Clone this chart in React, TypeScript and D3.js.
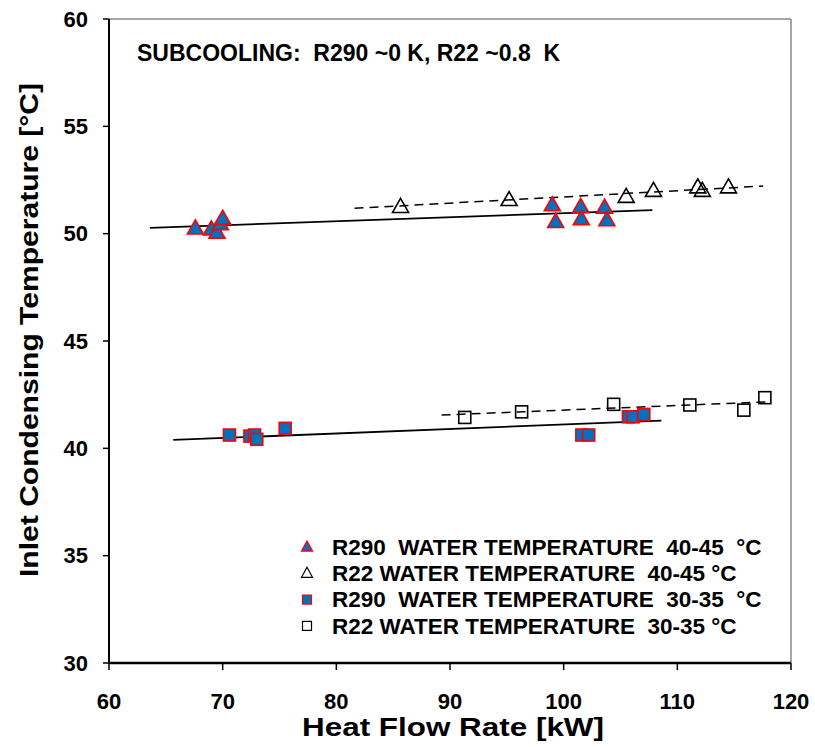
import React from "react";
import * as d3 from "d3";

const xTicks = [60, 70, 80, 90, 100, 110, 120];
const yTicks = [30, 35, 40, 45, 50, 55, 60];

// R290 water 40-45 °C (filled triangles)
const r290HighX = [67.6, 69.0, 69.5, 69.8, 70.0, 99.0, 99.3, 101.5, 101.55, 103.6, 103.8];
const r290HighY = [50.25, 50.2, 50.05, 50.45, 50.7, 51.33, 50.55, 51.25, 50.68, 51.22, 50.63];
// R22 water 40-45 °C (open triangles)
const r22HighX = [85.65, 95.2, 105.5, 107.9, 111.8, 112.2, 114.5];
const r22HighY = [51.25, 51.57, 51.72, 52.0, 52.16, 52.0, 52.16];
// R290 water 30-35 °C (filled squares)
const r290LowX = [70.6, 72.4, 72.8, 73.0, 75.5, 101.6, 102.2, 105.7, 106.1, 107.05];
const r290LowY = [40.62, 40.57, 40.62, 40.42, 40.93, 40.62, 40.62, 41.47, 41.47, 41.58];
// R22 water 30-35 °C (open squares)
const r22LowX = [91.3, 96.3, 104.4, 111.1, 115.85, 117.7];
const r22LowY = [41.44, 41.7, 42.05, 42.02, 41.78, 42.36];

// Trend line endpoints [x0, x1], [y0, y1]
const trendR290HighX = [63.6, 107.8];
const trendR290HighY = [50.27, 51.1];
const trendR22HighX = [81.6, 117.55];
const trendR22HighY = [51.18, 52.22];
const trendR290LowX = [65.65, 108.6];
const trendR290LowY = [40.39, 41.29];
const trendR22LowX = [89.26, 118.13];
const trendR22LowY = [41.55, 42.17];

const legendLabels = [
  "R290  WATER TEMPERATURE  40-45  °C",
  "R22 WATER TEMPERATURE  40-45 °C",
  "R290  WATER TEMPERATURE  30-35  °C",
  "R22 WATER TEMPERATURE  30-35 °C",
];

const W = 815;
const H = 747;
const M = { left: 109, right: 791, top: 19, bottom: 663 };
const FONT = "'Liberation Sans', Arial, sans-serif";
const BLUE = "#0070C0";
const RED = "#FF0000";

function tri(cx: number, cy: number, w: number, h: number) {
  return `M${cx},${cy - h * 0.6} L${cx + w / 2},${cy + h * 0.4} L${cx - w / 2},${cy + h * 0.4} Z`;
}

export default function App() {
  const x = d3.scaleLinear().domain([60, 120]).range([M.left, M.right]);
  const y = d3.scaleLinear().domain([30, 60]).range([M.bottom, M.top]);
  const line = d3
    .line<[number, number]>()
    .x((d) => x(d[0]))
    .y((d) => y(d[1]));
  const pairs = (xs: number[], ys: number[]) => xs.map((v, i) => [v, ys[i]] as [number, number]);

  const legendX = 307;
  const legendTextX = 332;
  const legendY0 = 547;
  const legendDy = 26.3;

  return (
    <svg width={W} height={H} style={{ position: "absolute", left: 0, top: 0, background: "#fff" }}>
      <rect x={0} y={0} width={W} height={H} fill="#fff" />
      {/* frame */}
      <line x1={M.left} x2={M.right} y1={M.top} y2={M.top} stroke="#888" strokeWidth={1.5} />
      <line x1={M.right} x2={M.right} y1={M.top} y2={M.bottom} stroke="#888" strokeWidth={1.5} />
      {/* y axis */}
      <line x1={M.left} x2={M.left} y1={M.top} y2={M.bottom} stroke="#000" strokeWidth={2} />
      {yTicks.map((t) => (
        <g key={"y" + t}>
          <line x1={M.left - 6} x2={M.left} y1={y(t)} y2={y(t)} stroke="#000" strokeWidth={1.5} />
          <text x={M.left - 21} y={y(t)} dy="0.35em" textAnchor="end" fontFamily={FONT} fontWeight="bold" fontSize={22}>
            {t}
          </text>
        </g>
      ))}
      {/* x axis */}
      <line x1={M.left} x2={M.right} y1={M.bottom} y2={M.bottom} stroke="#000" strokeWidth={2.5} />
      {xTicks.map((t) => (
        <g key={"x" + t}>
          <line x1={x(t)} x2={x(t)} y1={M.bottom} y2={M.bottom + 7} stroke="#000" strokeWidth={1.5} />
          <text x={x(t)} y={701} dy="0.35em" textAnchor="middle" fontFamily={FONT} fontWeight="bold" fontSize={22}>
            {t}
          </text>
        </g>
      ))}
      <text
        x={302}
        y={727}
        dy="0.35em"
        fontFamily={FONT}
        fontWeight="bold"
        fontSize={26}
        textLength={302}
        lengthAdjust="spacingAndGlyphs"
      >
        Heat Flow Rate [kW]
      </text>
      <text
        transform={`translate(29,577) rotate(-90)`}
        dy="0.35em"
        fontFamily={FONT}
        fontWeight="bold"
        fontSize={25}
        textLength={494}
        lengthAdjust="spacingAndGlyphs"
      >
        Inlet Condensing Temperature [°C]
      </text>
      <text x={137} y={53} dy="0.35em" fontFamily={FONT} fontWeight="bold" fontSize={23} style={{ whiteSpace: "pre" }}>
        SUBCOOLING:  R290 ~0 K, R22 ~0.8  K
      </text>

      {/* trend lines */}
      <path d={line(pairs(trendR290HighX, trendR290HighY)) || ""} stroke="#000" strokeWidth={1.8} fill="none" />
      <path d={line(pairs(trendR22HighX, trendR22HighY)) || ""} stroke="#000" strokeWidth={1.5} fill="none" strokeDasharray="9,6" />
      <path d={line(pairs(trendR290LowX, trendR290LowY)) || ""} stroke="#000" strokeWidth={1.8} fill="none" />
      <path d={line(pairs(trendR22LowX, trendR22LowY)) || ""} stroke="#000" strokeWidth={1.5} fill="none" strokeDasharray="9,6" />

      {/* R22 open triangles */}
      {r22HighX.map((v, i) => (
        <path key={"a" + i} d={tri(x(v), y(r22HighY[i]), 16, 14)} fill="none" stroke="#000" strokeWidth={1.6} />
      ))}
      {/* R22 open squares */}
      {r22LowX.map((v, i) => (
        <rect key={"b" + i} x={x(v) - 6} y={y(r22LowY[i]) - 6} width={12} height={12} fill="none" stroke="#000" strokeWidth={1.6} />
      ))}
      {/* R290 filled triangles */}
      {r290HighX.map((v, i) => (
        <path key={"c" + i} d={tri(x(v), y(r290HighY[i]), 16, 14)} fill={BLUE} stroke={RED} strokeWidth={1.6} />
      ))}
      {/* R290 filled squares */}
      {r290LowX.map((v, i) => (
        <rect key={"d" + i} x={x(v) - 6} y={y(r290LowY[i]) - 6} width={12} height={12} fill={BLUE} stroke={RED} strokeWidth={1.6} />
      ))}

      {/* legend */}
      <path d={tri(legendX, legendY0, 11, 10)} fill={BLUE} stroke={RED} strokeWidth={1.3} />
      <path d={tri(legendX, legendY0 + legendDy, 11, 10)} fill="none" stroke="#000" strokeWidth={1.2} />
      <rect x={legendX - 4.5} y={legendY0 + 2 * legendDy - 4.5} width={9} height={9} fill={BLUE} stroke={RED} strokeWidth={1.2} />
      <rect x={legendX - 4.5} y={legendY0 + 3 * legendDy - 4.5} width={9} height={9} fill="#fff" stroke="#000" strokeWidth={1.2} />
      {legendLabels.map((l, i) => (
        <text key={"l" + i} x={legendTextX} y={legendY0 + i * legendDy} dy="0.35em" fontFamily={FONT} fontWeight="bold" fontSize={22.5} style={{ whiteSpace: "pre" }}>
          {l}
        </text>
      ))}
    </svg>
  );
}
